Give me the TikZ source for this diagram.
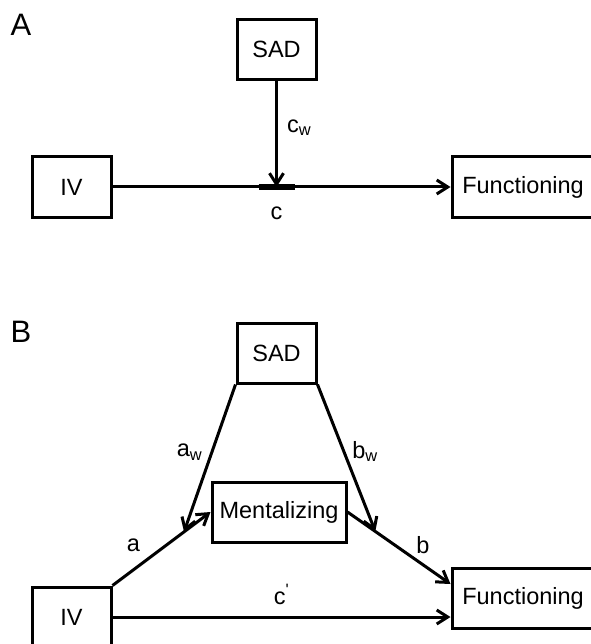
\documentclass[tikz,border=0pt]{standalone}
\usepackage{fontspec}
\setmainfont{Liberation Sans}
\usetikzlibrary{arrows.meta}

\begin{document}
\begin{tikzpicture}[
    x=1pt, y=-1pt,
    box/.style={%
      draw,
      rectangle,
      line width=3pt,
      inner sep=0pt,
      minimum width=79pt,
      minimum height=60pt,
      font=\fontsize{23.5}{28}\selectfont,
    },
    wide/.style={minimum width=142pt},
    lbl/.style={inner sep=1pt, font=\fontsize{23.5}{28}\selectfont},
    link/.style={line width=3pt, -{Straight Barb[length=11pt,width=14pt]}},
    panel/.style={inner sep=0pt, font=\fontsize{31}{36}\selectfont},
  ]
    \useasboundingbox (0,0) rectangle (590,644);

    % panel A
    \node [panel] (labA) at (21,25) {A};
    \node [box] (sadA) at (276.5,49.5) {SAD};
    \node [box] (ivA) at (71.5,187) {IV};
    \node [box,wide] (fnA) at (523,187) {Functioning};
    \coordinate (mA) at (sadA.south |- ivA.east);

    \draw [link] (ivA) -- (fnA);
    \draw [line width=5.5pt] ([xshift=-18pt]mA) -- ([xshift=18pt]mA);
    \draw [link] (sadA) -- (mA) node [lbl,pos=0.44,right=8pt] (lcw) {c\textsubscript{w}};
    \node [lbl,below=19pt] (lc) at (mA) {c};

    % panel B
    \node [panel] (labB) at (21,331.5) {B};
    \node [box] (sadB) at (276.5,353) {SAD};
    \node [box,minimum width=134pt] (mentB) at (279,512) {Mentalizing};
    \node [box] (ivB) at (71.5,617) {IV};
    \node [box,wide] (fnB) at (523,598) {Functioning};

    \draw [link] (ivB.north east) -- (mentB.west) coordinate [pos=0.73] (aHit)
      node [lbl,pos=0.55,left=24pt] (la) {a};
    \draw [link] (mentB.east) -- ([yshift=14pt]fnB.west) coordinate [pos=0.27] (bHit)
      node [lbl,pos=0.46,right=19pt] (lb) {b};
    \draw [link] (ivB.east) -- (ivB.east -| fnB.west)
      node [lbl,midway,above=10pt] (lcp) {c\textsuperscript{\textquotesingle}};
    \draw [link] (sadB.south west) -- (aHit) node [lbl,pos=0.46,left=7pt] (law) {a\textsubscript{w}};
    \draw [link] (sadB.south east) -- (bHit) node [lbl,pos=0.456,right=6pt] (lbw) {b\textsubscript{w}};
\end{tikzpicture}
\end{document}
